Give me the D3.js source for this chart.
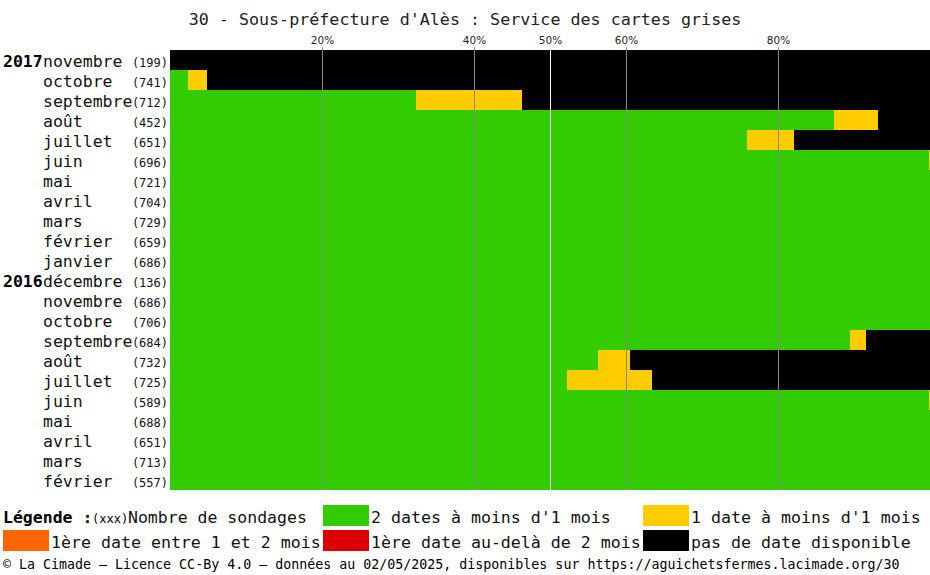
<!DOCTYPE html>
<html><head><meta charset="utf-8">
<script src="https://cdn.jsdelivr.net/npm/d3@7"></script>
<style>body{margin:0;background:#fff}svg{display:block}</style>
</head><body>
<svg id="c" width="930" height="575"></svg>
<script>
const title = "30 - Sous-préfecture d'Alès : Service des cartes grises";
const months = ["novembre","octobre","septembre","août","juillet","juin","mai","avril","mars","février","janvier","décembre","novembre","octobre","septembre","août","juillet","juin","mai","avril","mars","février"];
const years = ["2017","","","","","","","","","","","2016","","","","","","","","","",""];
const counts = [199,741,712,452,651,696,721,704,729,659,686,136,686,706,684,732,725,589,688,651,713,557];
// percentages per category
const greenPct  = [0,2.4,32.4,87.4,75.9,99.85,100,100,100,100,100,100,100,100,89.5,56.3,52.2,99.83,100,100,100,100];
const yellowPct = [0,2.5,13.9,5.8,6.2,0.15,0,0,0,0,0,0,0,0,2.1,4.2,11.2,0.17,0,0,0,0];
const orangePct = [0,0,0,0,0,0,0,0,0,0,0,0,0,0,0,0,0,0,0,0,0,0];
const redPct    = [0,0,0,0,0,0,0,0,0,0,0,0,0,0,0,0,0,0,0,0,0,0];
const blackPct  = greenPct.map((g,i)=>Math.max(0,100-g-yellowPct[i]-orangePct[i]-redPct[i]));
const keys = ["green","yellow","orange","red","black"];
const colors = {green:"#33cc00",yellow:"#ffcc00",orange:"#ff6600",red:"#dd0000",black:"#000000"};
const ticks = [20,40,50,60,80];
const legendLabels = ["2 dates à moins d'1 mois","1 date à moins d'1 mois","1ère date entre 1 et 2 mois","1ère date au-delà de 2 mois","pas de date disponible"];
const footer = "© La Cimade — Licence CC-By 4.0 — données au 02/05/2025, disponibles sur https://aguichetsfermes.lacimade.org/30";

const svg = d3.select("#c");
const mono = "'DejaVu Sans Mono', monospace";
const x = d3.scaleLinear().domain([0,100]).range([170,930]);
const y = d3.scaleBand().domain(d3.range(months.length)).range([50,490]).padding(0);

const rows = months.map((m,i)=>({i, green:greenPct[i], yellow:yellowPct[i], orange:orangePct[i], red:redPct[i], black:blackPct[i]}));
const stack = d3.stack().keys(keys)(rows);

svg.append("text").attr("x",465).attr("y",25).attr("text-anchor","middle")
  .attr("font-family",mono).attr("font-size","16.7px").attr("fill","#222").text(title);

svg.append("g").selectAll("g").data(stack).join("g").attr("fill",d=>colors[d.key])
  .selectAll("rect").data(d=>d).join("rect")
  .attr("x",d=>x(d[0])).attr("width",d=>Math.max(0,x(d[1])-x(d[0])))
  .attr("y",d=>y(d.data.i)).attr("height",y.bandwidth())
  .attr("shape-rendering","crispEdges");

// grid lines + tick labels
const g = svg.append("g");
g.selectAll("line").data(ticks).join("line")
  .attr("x1",d=>Math.round(x(d))+0.5).attr("x2",d=>Math.round(x(d))+0.5)
  .attr("y1",47).attr("y2",490)
  .attr("stroke",d=>d===50?"#ffffff":"#888888").attr("stroke-width",1);
g.selectAll("text").data(ticks).join("text")
  .attr("x",d=>x(d)+0.5).attr("y",44).attr("text-anchor","middle")
  .attr("font-family","'DejaVu Sans', sans-serif").attr("font-size","10.5px").attr("fill","#222")
  .text(d=>d+"%");

// row labels
const lab = svg.append("g");
months.forEach((m,i)=>{
  const cy = y(i)+y.bandwidth()/2+6.5;
  if (years[i]) lab.append("text").attr("x",3).attr("y",cy).attr("font-family",mono)
    .attr("font-weight","bold").attr("font-size","16.5px").attr("fill","#000").text(years[i]);
  lab.append("text").attr("x",43).attr("y",cy).attr("font-family",mono)
    .attr("font-size","16.5px").attr("fill","#111").text(m);
  lab.append("text").attr("x",168).attr("y",cy).attr("text-anchor","end").attr("font-family",mono)
    .attr("font-size","12px").attr("fill","#111").text("("+counts[i]+")");
});

// legend
const L = svg.append("g");
L.append("text").attr("x",3).attr("y",523).attr("font-family",mono).attr("font-weight","bold")
  .attr("font-size","16.5px").text("Légende :");
L.append("text").attr("x",92).attr("y",523).attr("font-family",mono).attr("font-size","12px").text("(xxx)");
L.append("text").attr("x",128).attr("y",523).attr("font-family",mono).attr("font-size","16.5px").attr("fill","#111").text("Nombre de sondages");
const legPos = [[323,505,"green"],[643,505,"yellow"],[3,530,"orange"],[323,530,"red"],[643,530,"black"]];
legPos.forEach((p,k)=>{
  L.append("rect").attr("x",p[0]).attr("y",p[1]).attr("width",46).attr("height",21).attr("fill",colors[p[2]]);
  L.append("text").attr("x",p[0]+48).attr("y",p[1]+18).attr("font-family",mono).attr("font-size","16.6px")
    .attr("fill","#111").text(legendLabels[k]);
});

svg.append("text").attr("x",3).attr("y",569).attr("font-family",mono).attr("font-size","13.3px")
  .attr("fill","#000").text(footer);
</script>
</body></html>
